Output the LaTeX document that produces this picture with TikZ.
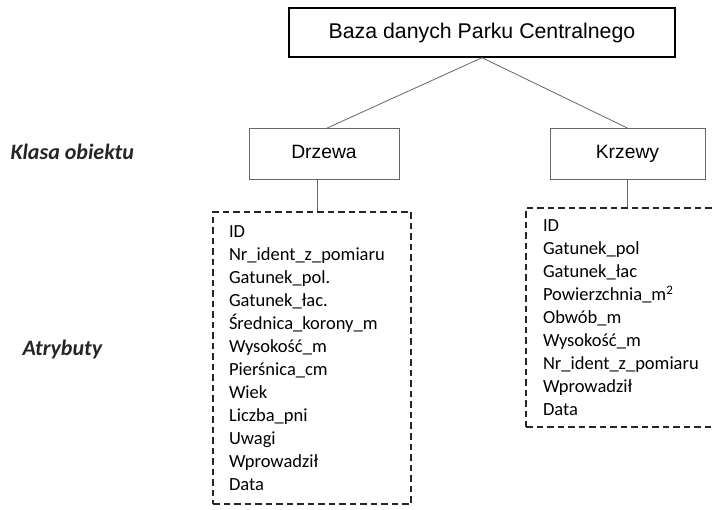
\documentclass[tikz,border=0pt]{standalone}
\usepackage{fontspec}
\setmainfont{Carlito}
\newfontfamily\arialfont{Liberation Sans}
\usepackage{xcolor}
\usepackage{tikz}
\usetikzlibrary{calc, positioning}
\tikzstyle{classbox}=[rectangle, draw=black!60, line width=0.8pt, minimum width=150pt, minimum height=51pt, text height=14pt, text depth=4pt, font=\arialfont\fontsize{19.3pt}{22pt}\selectfont]
\tikzstyle{attrbox}=[rectangle, draw=black!85, dashed, dash pattern=on 6.5pt off 4pt, line width=1.3pt, align=left, inner xsep=16pt, font=\fontsize{18.5pt}{23pt}\selectfont]
\tikzstyle{sidelabel}=[font=\bfseries\itshape\fontsize{22pt}{24pt}\selectfont, text=black!85]
\tikzstyle{link}=[draw=black!60, line width=0.8pt]

\begin{document}
\begin{tikzpicture}[x=1pt, y=-1pt]

\clip (0,0) rectangle (715,510);

% Main box
\node[rectangle, draw, line width=1.4pt, minimum width=386pt, minimum height=49pt,
      font=\arialfont\fontsize{21.3pt}{24pt}\selectfont] (baza) at (482,32.5) {Baza danych Parku Centralnego};

\node[classbox] (drzewa) at (324,154) {Drzewa};
\node[classbox, minimum width=155pt] (krzewy) at (627.5,154) {Krzewy};

\node[attrbox, text width=166pt, minimum height=292pt] (drzewaattr) at (312,358) {%
ID\\
Nr\_ident\_z\_pomiaru\\
Gatunek\_pol.\\
Gatunek\_łac.\\
Średnica\_korony\_m\\
Wysokość\_m\\
Pierśnica\_cm\\
Wiek\\
Liczba\_pni\\
Uwagi\\
Wprowadził\\
Data};

\node[attrbox, text width=175pt, inner xsep=17pt, minimum height=219pt] (krzewyattr) at (630.5,317.5) {%
ID\\
Gatunek\_pol\\
Gatunek\_łac\\
Powierzchnia\_m\textsuperscript{2}\\
Obwób\_m\\
Wysokość\_m\\
Nr\_ident\_z\_pomiaru\\
Wprowadził\\
Data};

\node[sidelabel, anchor=west] (klasa) at (7,152) {Klasa obiektu};
\node[sidelabel, anchor=west] (atrybuty) at (19,350) {Atrybuty};

\draw[link] (baza.south) -- ($(drzewa.north)+(3,0)$); % baza -> drzewa
\draw[link] (baza.south) -- (krzewy.north); % baza -> krzewy
\draw[link] ($(drzewa.south)+(-7,0)$) -- ($(drzewa.south |- drzewaattr.north)+(-7,0)$);
\draw[link] (krzewy.south) -- (krzewy.south |- krzewyattr.north);

\end{tikzpicture}
\end{document}
